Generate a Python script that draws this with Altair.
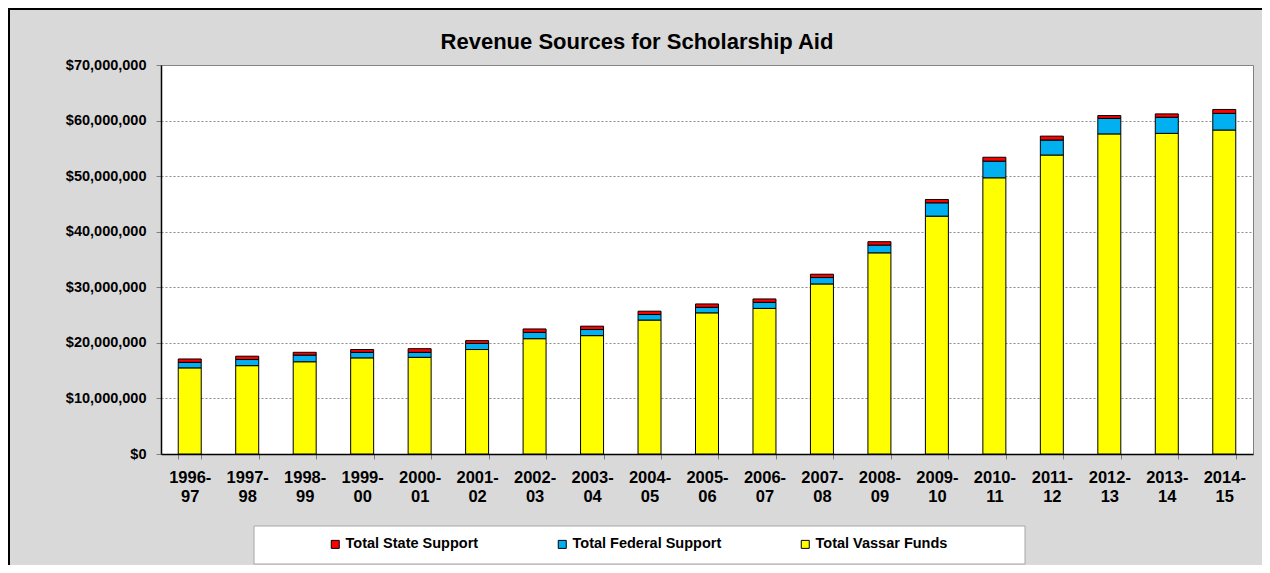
import altair as alt
import pandas as pd

categories = ["1996-97", "1997-98", "1998-99", "1999-00", "2000-01", "2001-02",
              "2002-03", "2003-04", "2004-05", "2005-06", "2006-07", "2007-08",
              "2008-09", "2009-10", "2010-11", "2011-12", "2012-13", "2013-14",
              "2014-15"]
vassar_funds = [15.5, 15.9, 16.6, 17.3, 17.4, 18.8, 20.75, 21.3, 24.1, 25.4, 26.2,
                30.6, 36.2, 42.8, 49.7, 53.8, 57.6, 57.7, 58.3]
federal_support = [1.0, 1.1, 1.2, 1.0, 0.9, 1.1, 1.15, 1.1, 1.0, 1.0, 1.1,
                   1.15, 1.4, 2.4, 3.0, 2.7, 2.8, 2.9, 3.0]
state_support = [0.6, 0.6, 0.5, 0.5, 0.65, 0.5, 0.6, 0.6, 0.6, 0.6, 0.6,
                 0.6, 0.6, 0.6, 0.7, 0.7, 0.5, 0.6, 0.7]

series_names = ["Total State Support", "Total Federal Support", "Total Vassar Funds"]
series_colors = ["#ff0000", "#00b0f0", "#ffff00"]
stack_rank = {"Total Vassar Funds": 0, "Total Federal Support": 1, "Total State Support": 2}

rows = []
for i, cat in enumerate(categories):
    for name, vals in [("Total Vassar Funds", vassar_funds),
                       ("Total Federal Support", federal_support),
                       ("Total State Support", state_support)]:
        rows.append({"year": cat, "series": name, "value": vals[i] * 1_000_000,
                     "rank": stack_rank[name]})
df = pd.DataFrame(rows)

FONT = "Liberation Sans"

bars = alt.Chart(df).mark_bar(stroke="black", strokeWidth=1, opacity=1).encode(
    x=alt.X("year:N", sort=categories, title=None,
            scale=alt.Scale(paddingInner=0.6, paddingOuter=0.3),
            axis=alt.Axis(labelAngle=0, labelFontSize=16.5, labelFontWeight="bold",
                          labelFont=FONT, labelColor="black", labelLineHeight=19.5,
                          labelExpr="[slice(datum.label, 0, 5), slice(datum.label, 5)]",
                          tickBand="extent", tickSize=5, tickColor="#808080",
                          labelPadding=10, domainColor="black", domainWidth=1.5,
                          grid=False)),
    y=alt.Y("value:Q", stack="zero", title=None,
            scale=alt.Scale(domain=[0, 70_000_000], nice=False),
            axis=alt.Axis(values=[i * 10_000_000 for i in range(8)], format="$,.0f",
                          labelFontSize=14.5, labelFontWeight="bold", labelFont=FONT,
                          labelColor="black", tickSize=5, tickColor="#808080",
                          labelPadding=10, domainColor="black", domainWidth=1.5,
                          grid=True, gridColor="#8c8c8c", gridDash=[2, 2],
                          gridWidth=1)),
    color=alt.Color("series:N", scale=alt.Scale(domain=series_names, range=series_colors),
                    legend=alt.Legend(title=None, orient="none", legendX=167, legendY=472,
                                      direction="horizontal", columnPadding=76,
                                      labelFontSize=14.5, labelFontWeight="bold",
                                      labelFont=FONT, labelColor="black",
                                      symbolType="square", symbolSize=64,
                                      symbolStrokeColor="black", symbolStrokeWidth=1,
                                      symbolOpacity=1, labelOffset=3, padding=0)),
    order=alt.Order("rank:Q", sort="ascending"),
)

one = alt.Data(values=[{"k": 1}])

legend_box = alt.Chart(one).mark_rect(fill="white", stroke="#a6a6a6", strokeWidth=1).encode(
    x=alt.value(93), x2=alt.value(864), y=alt.value(461), y2=alt.value(499)
)

border_left = alt.Chart(one).mark_rule(color="black", strokeWidth=2).encode(
    x=alt.value(-152), y=alt.value(-57), y2=alt.value(520)
)
border_top = alt.Chart(one).mark_rule(color="black", strokeWidth=2).encode(
    x=alt.value(-153), x2=alt.value(1110), y=alt.value(-56)
)

chart = alt.layer(legend_box, border_left, border_top, bars).properties(
    width=1092,
    height=389,
    title=alt.TitleParams("Revenue Sources for Scholarship Aid", fontSize=22,
                          fontWeight="bold", font=FONT, color="black",
                          anchor="middle", dx=-70, dy=58, offset=11),
    autosize=alt.AutoSizeParams(type="none"),
    padding={"left": 153, "top": 57, "right": 9, "bottom": 111},
    background="#d9d9d9",
).configure_view(
    fill="white", stroke="#808080", strokeWidth=1
)

chart.save("out.html", embed_options={"renderer": "svg", "actions": False})
